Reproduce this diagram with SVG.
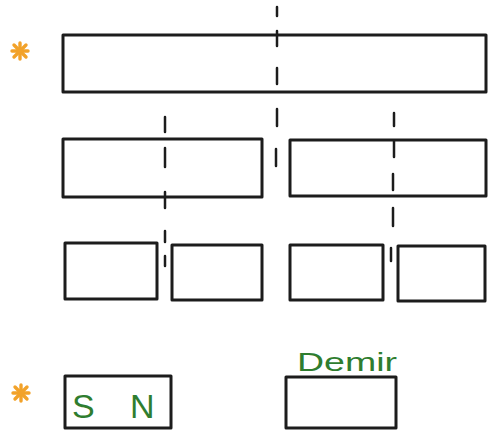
<svg xmlns="http://www.w3.org/2000/svg" width="488" height="434" viewBox="0 0 488 434">
<style>
.box{fill:none;stroke:#1c1c1c;stroke-width:3;stroke-linejoin:round}
.dash{stroke:#1c1c1c;stroke-width:2.5;stroke-linecap:round}
.star{stroke:#f2a22a;stroke-width:3.4;stroke-linecap:round}
.lbl{font-family:"Liberation Sans",Arial,sans-serif;fill:#2f7d2f}
</style>
<defs>
<g id="ast">
<line class="star" x1="0" y1="-8" x2="0" y2="8"/>
<line class="star" x1="-8" y1="0" x2="8" y2="0"/>
<line class="star" x1="-6" y1="-6" x2="6" y2="6"/>
<line class="star" x1="-6" y1="6" x2="6" y2="-6"/>
</g>
</defs>
<rect width="488" height="434" fill="#ffffff"/>
<g id="connectors">
<line class="dash" x1="277" y1="7" x2="277" y2="16"/>
<line class="dash" x1="277" y1="31" x2="277" y2="46"/>
<line class="dash" x1="277" y1="68" x2="277" y2="84"/>
<line class="dash" x1="277" y1="109" x2="277" y2="126"/>
<line class="dash" x1="276" y1="149" x2="276" y2="166"/>
<line class="dash" x1="165" y1="117" x2="165" y2="132"/>
<line class="dash" x1="165" y1="148" x2="165" y2="167"/>
<line class="dash" x1="165" y1="192" x2="165" y2="208"/>
<line class="dash" x1="165" y1="231" x2="165" y2="242"/>
<line class="dash" x1="165" y1="256" x2="165" y2="266"/>
<line class="dash" x1="394" y1="113" x2="394" y2="126"/>
<line class="dash" x1="394" y1="141" x2="394" y2="157"/>
<line class="dash" x1="393" y1="174" x2="393" y2="190"/>
<line class="dash" x1="393" y1="208" x2="393" y2="226"/>
<line class="dash" x1="391" y1="248" x2="391" y2="261"/>
</g>
<g id="star1"><use href="#ast" x="20" y="51"/></g>
<g id="bar"><rect class="box" x="63" y="35" width="423" height="57"/></g>
<g id="half-left"><rect class="box" x="63" y="139" width="199" height="58"/></g>
<g id="half-right"><rect class="box" x="290" y="140" width="196" height="56"/></g>
<g id="q1"><rect class="box" x="65" y="243" width="92" height="56"/></g>
<g id="q2"><rect class="box" x="172" y="245" width="90" height="55"/></g>
<g id="q3"><rect class="box" x="290" y="245" width="93" height="55"/></g>
<g id="q4"><rect class="box" x="398" y="246" width="87" height="55"/></g>
<g id="star2"><use href="#ast" x="21" y="393"/></g>
<g id="magnet">
<rect class="box" x="65" y="376" width="106" height="52"/>
<text class="lbl" x="72" y="418" font-size="34">S</text>
<text class="lbl" x="130" y="418" font-size="34">N</text>
</g>
<g id="iron">
<rect class="box" x="286" y="377" width="110" height="51"/>
<text class="lbl" x="297" y="371" font-size="26" textLength="100" lengthAdjust="spacingAndGlyphs">Demir</text>
</g>
</svg>
